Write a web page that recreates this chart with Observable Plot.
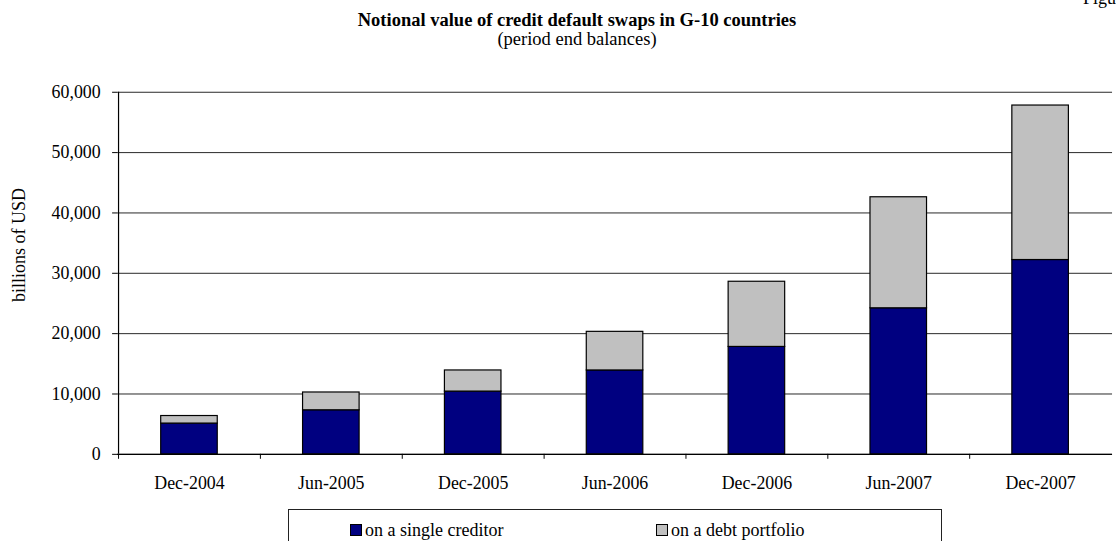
<!DOCTYPE html>
<html>
<head>
<meta charset="utf-8">
<script src="https://cdn.jsdelivr.net/npm/d3@7"></script>
<script src="https://cdn.jsdelivr.net/npm/@observablehq/plot@0.6"></script>
<style>
  html, body { margin: 0; padding: 0; background: #fff; overflow: hidden; }
  #wrap { position: relative; width: 1116px; height: 541px; overflow: hidden; background: #fff; font-family: "Liberation Serif", "Times New Roman", serif; color: #000; }
  #chart { position: absolute; left: 0; top: 0; z-index: 1; }
  .title { position: absolute; left: 0; width: 1154px; text-align: center; white-space: nowrap; line-height: 15px; z-index: 2; }
  #t1 { top: 13px; font-weight: bold; font-size: 18.5px; }
  #t2 { top: 32px; font-size: 18.5px; }
  #fig { position: absolute; left: 1083px; top: -9px; font-size: 18px; line-height: 15px; white-space: nowrap; z-index: 2; }
  #ylab { position: absolute; left: 19px; top: 245px; font-size: 18px; white-space: nowrap; transform: translate(-50%, -50%) rotate(-90deg); z-index: 2; line-height: 18px; }
  #legend { position: absolute; left: 288px; top: 509px; width: 654px; height: 50px; border: 1px solid #222; box-sizing: border-box; font-size: 18px; z-index: 2; background: #fff; }
  .item { position: absolute; top: 11px; display: flex; align-items: center; white-space: nowrap; line-height: 18px; }
  .sw { width: 10px; height: 10px; border: 1px solid #000; margin-right: 3px; }
</style>
</head>
<body>
<div id="wrap">
  <div id="fig">Figure</div>
  <div class="title" id="t1">Notional value of credit default swaps in G-10 countries</div>
  <div class="title" id="t2">(period end balances)</div>
  <div id="ylab"></div>
  <div id="chart"></div>
  <div id="legend"></div>
</div>
<script>
// ---- data ----
const periods = ["Dec-2004", "Jun-2005", "Dec-2005", "Jun-2006", "Dec-2006", "Jun-2007", "Dec-2007"];
const singleCreditor = [5100, 7300, 10400, 13900, 17800, 24200, 32200];
const debtPortfolio = [1250, 2950, 3500, 6400, 10800, 18400, 25600];
const seriesNames = ["on a single creditor", "on a debt portfolio"];
const seriesColors = ["#000080", "#C0C0C0"];
const yTicks = [0, 10000, 20000, 30000, 40000, 50000, 60000];
const yLabel = "billions of USD";

// ---- table ----
const rows = [];
periods.forEach((p, i) => {
  rows.push({period: p, series: seriesNames[0], value: singleCreditor[i]});
  rows.push({period: p, series: seriesNames[1], value: debtPortfolio[i]});
});

const W = 1125, H = 541;
const base = {
  width: W, height: H,
  marginLeft: 118, marginRight: 4, marginTop: 92.5, marginBottom: 83.5,
  x: {domain: periods, paddingInner: 0.6, paddingOuter: 0.3, align: 0.5, label: null},
  y: {domain: [0, 60000], label: null},
  color: {domain: seriesNames, range: seriesColors}
};

// probe to obtain the band step from the library's own scale
const probe = Plot.plot({...base, marks: []});
const xs = probe.scale("x");
const step = xs.step ?? ((W - base.marginLeft - base.marginRight) / (periods.length - 0.6 + 0.6));

const fmt = d3.format(",");
const chart = Plot.plot({
  ...base,
  style: {fontFamily: "Liberation Serif, Times New Roman, serif", fontSize: "18px", color: "#000", background: "transparent", overflow: "visible"},
  marks: [
    Plot.gridY(yTicks, {stroke: "#000", strokeOpacity: 0.85, strokeWidth: 1}),
    Plot.barY(rows, Plot.stackY({x: "period", y: "value", fill: "series", stroke: "#000", strokeWidth: 1.2, order: seriesNames})),
    Plot.ruleY([0], {stroke: "#000", strokeWidth: 1.2}),
    // vertical value axis line at the left edge of the first band
    Plot.ruleX([periods[0]], {x: d => d, y1: 0, y2: 60000, dx: -step / 2, stroke: "#000", strokeWidth: 1.2}),
    Plot.axisY({ticks: yTicks, tickFormat: fmt, tickSize: 5, tickPadding: 12, label: null, fontSize: 18}),
    // category labels
    Plot.axisX({tickSize: 0, tickPadding: 22, label: null, fontSize: 18}),
    // tick marks at band boundaries
    Plot.axisX({tickSize: 5, tickFormat: () => "", dx: -step / 2, label: null})
  ]
});
document.getElementById("chart").appendChild(chart);
document.getElementById("ylab").textContent = yLabel;

// ---- legend ----
const legend = document.getElementById("legend");
const legendX = [61, 367];
seriesNames.forEach((name, i) => {
  const it = document.createElement("div");
  it.className = "item";
  it.style.left = legendX[i] + "px";
  const sw = document.createElement("span");
  sw.className = "sw";
  sw.style.background = seriesColors[i];
  const tx = document.createElement("span");
  tx.textContent = name;
  it.appendChild(sw); it.appendChild(tx);
  legend.appendChild(it);
});
</script>
</body>
</html>
